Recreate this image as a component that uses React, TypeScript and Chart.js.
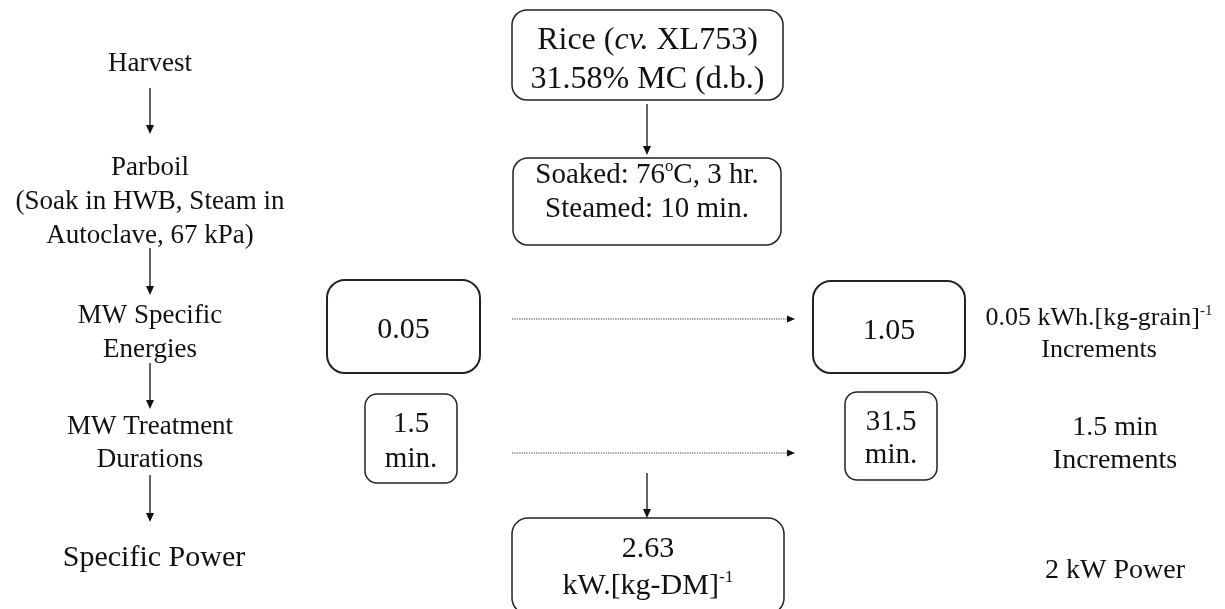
import React, { useEffect, useRef } from "react";
import { Chart, registerables } from "chart.js";

Chart.register(...registerables);

const WIDTH = 1225;
const HEIGHT = 609;
const FONT_FAMILY = '"Liberation Serif", "Times New Roman", Times, serif';

// ---- Left column: process steps ----
const stepLabels: string[][] = [
  ["Harvest"],
  ["Parboil", "(Soak in HWB, Steam in", "Autoclave, 67 kPa)"],
  ["MW Specific", "Energies"],
  ["MW Treatment", "Durations"],
  ["Specific Power"],
];
const stepX = [150, 150, 150, 150, 154];
const stepBaseline = [71, 175, 323, 434, 566];
const stepFont = [27, 27, 27, 27, 30];
const stepLineStep = [34, 34, 34, 33, 0];

// ---- Centre boxes ----
const boxLabels: string[][] = [
  ["Rice (_cv._ XL753)", "31.58% MC (d.b.)"],
  ["Soaked: 76^o^C, 3 hr.", "Steamed: 10 min."],
  ["0.05"],
  ["1.05"],
  ["1.5", "min."],
  ["31.5", "min."],
  ["2.63", "kW.[kg-DM]^-1^"],
];
const boxLeft = [512, 513, 327, 813, 365, 845, 512];
const boxTop = [10, 158, 280, 281, 394, 392, 518];
const boxRight = [783, 781, 480, 965, 457, 937, 784];
const boxBottom = [100, 245, 373, 373, 483, 480, 614];
const boxRadius = [15, 15, 18, 18, 12, 12, 16];
const boxTextBaseline = [49, 183, 338, 339, 432, 430, 557];
const boxFont = [32, 29, 30, 30, 29, 29, 30];
const boxLineStep = [39, 34, 0, 0, 35, 33, 37];
const boxStroke = [1.5, 1.5, 2, 2, 1.5, 1.5, 1.5];

// ---- Right column notes ----
const noteLabels: string[][] = [
  ["0.05 kWh.[kg-grain]^-1^", "Increments"],
  ["1.5 min", "Increments"],
  ["2 kW Power"],
];
const noteX = [1099, 1115, 1115];
const noteBaseline = [325, 435, 578];
const noteFont = [26, 28, 28];
const noteLineStep = [32, 33, 0];

// ---- Arrows ----
const arrowX1 = [150, 150, 150, 150, 647, 647, 512, 512];
const arrowY1 = [88, 248, 363, 475, 104, 473, 319, 453];
const arrowX2 = [150, 150, 150, 150, 647, 647, 795, 795];
const arrowY2 = [134, 295, 409, 522, 155, 518, 319, 453];
const arrowDotted = [false, false, false, false, false, false, true, true];

type Part = { t: string; italic: boolean; sup: boolean; w?: number };

function parseMarkup(line: string): Part[] {
  const out: Part[] = [];
  const re = /(\^[^^]*\^|_[^_]*_)/g;
  let last = 0;
  let m: RegExpExecArray | null;
  while ((m = re.exec(line)) !== null) {
    if (m.index > last) out.push({ t: line.slice(last, m.index), italic: false, sup: false });
    const tok = m[0];
    if (tok[0] === "^") out.push({ t: tok.slice(1, -1), italic: false, sup: true });
    else out.push({ t: tok.slice(1, -1), italic: true, sup: false });
    last = m.index + tok.length;
  }
  if (last < line.length) out.push({ t: line.slice(last), italic: false, sup: false });
  return out;
}

function fontFor(p: Part, fs: number) {
  const size = p.sup ? fs * 0.58 : fs;
  return `${p.italic ? "italic " : ""}${size}px ${FONT_FAMILY}`;
}

function drawRich(ctx: CanvasRenderingContext2D, line: string, cx: number, baseline: number, fs: number) {
  const parts = parseMarkup(line);
  let total = 0;
  for (const p of parts) {
    ctx.font = fontFor(p, fs);
    p.w = ctx.measureText(p.t).width;
    total += p.w;
  }
  let x = cx - total / 2;
  for (const p of parts) {
    ctx.font = fontFor(p, fs);
    ctx.fillText(p.t, x, baseline - (p.sup ? fs * 0.4 : 0));
    x += p.w || 0;
  }
}

const flowPlugin = {
  id: "flowDiagram",
  afterDatasetsDraw(chart: any) {
    const ctx: CanvasRenderingContext2D = chart.ctx;
    const sx = chart.scales.x;
    const sy = chart.scales.y;
    const px = (v: number) => sx.getPixelForValue(v);
    const py = (v: number) => sy.getPixelForValue(v);
    const unit = Math.abs(py(1) - py(0));

    ctx.save();
    ctx.fillStyle = "#111";
    ctx.textAlign = "left";
    ctx.textBaseline = "alphabetic";

    const drawBlock = (lines: string[], x: number, base: number, fs: number, step: number) => {
      ctx.fillStyle = "#111";
      lines.forEach((ln, i) => drawRich(ctx, ln, px(x), py(base + i * step), fs * unit));
    };

    stepLabels.forEach((lines, i) => drawBlock(lines, stepX[i], stepBaseline[i], stepFont[i], stepLineStep[i]));
    noteLabels.forEach((lines, i) => drawBlock(lines, noteX[i], noteBaseline[i], noteFont[i], noteLineStep[i]));

    // boxes
    boxLabels.forEach((lines, i) => {
      const x1 = px(boxLeft[i]);
      const x2 = px(boxRight[i]);
      const y1 = py(boxTop[i]);
      const y2 = py(boxBottom[i]);
      ctx.beginPath();
      ctx.lineWidth = boxStroke[i];
      ctx.strokeStyle = "#222";
      (ctx as any).roundRect(x1, y1, x2 - x1, y2 - y1, boxRadius[i] * unit);
      ctx.stroke();
      const cx = (boxLeft[i] + boxRight[i]) / 2;
      drawBlock(lines, cx, boxTextBaseline[i], boxFont[i], boxLineStep[i]);
    });

    // arrows
    arrowX1.forEach((_, i) => {
      const x1 = px(arrowX1[i]);
      const y1 = py(arrowY1[i]);
      const x2 = px(arrowX2[i]);
      const y2 = py(arrowY2[i]);
      const ang = Math.atan2(y2 - y1, x2 - x1);
      const dotted = arrowDotted[i];
      const headLen = dotted ? 8 : 9;
      const headHalf = dotted ? 3.5 : 4;
      const ex = x2 - Math.cos(ang) * headLen;
      const ey = y2 - Math.sin(ang) * headLen;
      ctx.beginPath();
      ctx.lineWidth = dotted ? 1.2 : 1.3;
      ctx.strokeStyle = dotted ? "#444" : "#111";
      ctx.setLineDash(dotted ? [1.3, 1.1] : []);
      ctx.moveTo(x1, y1);
      ctx.lineTo(ex, ey);
      ctx.stroke();
      ctx.setLineDash([]);
      ctx.beginPath();
      ctx.fillStyle = "#111";
      ctx.moveTo(x2, y2);
      ctx.lineTo(ex - Math.sin(ang) * headHalf, ey + Math.cos(ang) * headHalf);
      ctx.lineTo(ex + Math.sin(ang) * headHalf, ey - Math.cos(ang) * headHalf);
      ctx.closePath();
      ctx.fill();
    });

    ctx.restore();
  },
};

export default function App() {
  const canvasRef = useRef<HTMLCanvasElement | null>(null);

  useEffect(() => {
    if (!canvasRef.current) return;
    const chart = new Chart(canvasRef.current, {
      type: "scatter",
      data: {
        datasets: [
          {
            label: "steps",
            data: stepX.map((x, i) => ({ x, y: stepBaseline[i] })),
            pointRadius: 0,
            showLine: false,
          },
        ],
      },
      options: {
        animation: false,
        responsive: true,
        maintainAspectRatio: false,
        layout: { padding: 0 },
        events: [],
        plugins: {
          legend: { display: false },
          tooltip: { enabled: false },
          title: { display: false },
        },
        scales: {
          x: { type: "linear", min: 0, max: WIDTH, display: false },
          y: { type: "linear", min: 0, max: HEIGHT, reverse: true, display: false },
        },
      },
      plugins: [flowPlugin],
    });
    return () => chart.destroy();
  }, []);

  return (
    <div
      style={{
        position: "absolute",
        left: 0,
        top: 0,
        width: WIDTH,
        height: HEIGHT,
        background: "#fff",
      }}
    >
      <canvas ref={canvasRef} />
    </div>
  );
}
